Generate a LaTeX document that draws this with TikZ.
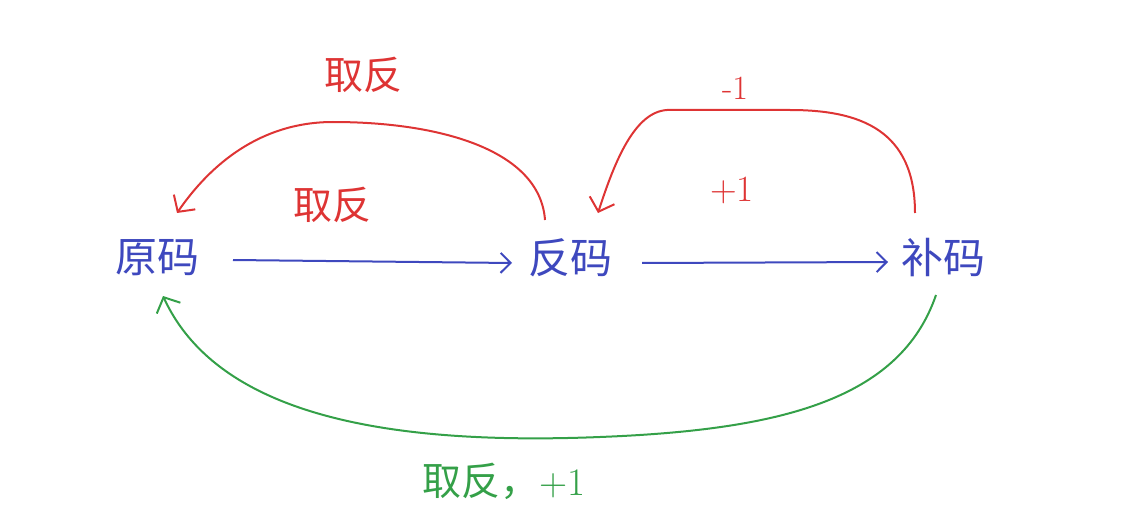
\documentclass[tikz,border=0pt]{standalone}
\usepackage{fontspec}
\usepackage{xcolor}
\usepackage{tikz}
\usetikzlibrary{arrows.meta}
\newfontfamily\cjk{Noto Sans CJK SC}
\definecolor{myred}{RGB}{222,52,52}
\definecolor{myblue}{RGB}{62,72,190}
\definecolor{mygreen}{RGB}{52,160,72}

\begin{document}
\begin{tikzpicture}[x=1pt,y=-1pt,>={Straight Barb[length=12pt,width=26pt]},
  code/.style={inner sep=0pt,text=myblue,font=\cjk\fontsize{42}{50}\selectfont},
  lab/.style={inner sep=0pt,font=\cjk\fontsize{39}{46}\selectfont},
  redline/.style={myred,line width=2pt},
  blueline/.style={myblue,line width=2pt,-{Straight Barb[length=10pt,width=20pt]}},
  greenline/.style={mygreen,line width=2pt}]
\useasboundingbox (0,0) rectangle (1136,516);
% the three codes
\node[code](ym) at (157,258) {原码};
\node[code](fm) at (570,258) {反码};
\node[code](bm) at (943,258) {补码};
% blue arrows
\draw[blueline]([shift={(76,2)}]ym.center)--([shift={(-58,5)}]fm.center);
\draw[blueline]([shift={(72,5)}]fm.center)--([shift={(-55,4)}]bm.center);
% red arcs
\draw[redline,->]([shift={(-25,-38)}]fm.center) .. controls (540,150) and (440,122) .. (333,122)
  .. controls (260,122) and (210,165) .. ([shift={(20,-45)}]ym.center);
\draw[redline,->]([shift={(-28,-45)}]bm.center) .. controls (915,130) and (860,110) .. (790,110)
  --(667,110) .. controls (635,112) and (615,160) .. ([shift={(28,-45)}]fm.center);
% green arc
\draw[greenline,->]([shift={(-7,37)}]bm.center) .. controls (900,400) and (780,430) .. (600,437)
  .. controls (400,445) and (220,420) .. ([shift={(6,38)}]ym.center);
% labels
\node[lab,text=myred](qf1) at (363,75) {取反};
\node[lab,text=myred](qf2) at (332,205) {取反};
\node[inner sep=0pt,text=myred,font=\fontsize{37}{44}\selectfont](p1) at (732,190) {+1};
\node[inner sep=0pt,text=myred,font=\fontsize{34}{40}\selectfont](m1) at (735,88) {-1};
\node[lab,text=mygreen](qf3) at (504,481) {取反，{\rmfamily +1}};
\end{tikzpicture}
\end{document}
